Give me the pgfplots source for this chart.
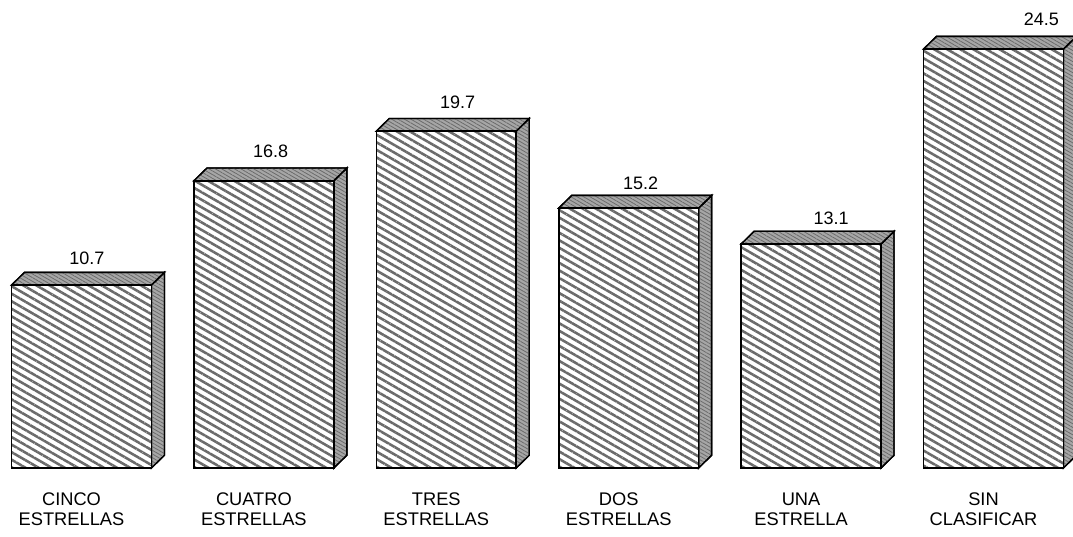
\documentclass[border=0pt]{standalone}
\usepackage{fontspec}
\setmainfont{Liberation Sans}
\usepackage{pgfplots}
\pgfplotsset{compat=1.18}
\usetikzlibrary{patterns.meta}
\tikzset{
  hatch/.style={pattern={Lines[angle=-30,distance=4.9pt,line width=1.9pt]},pattern color=black!58},
  face/.style={draw=black,line width=1pt,fill=black!35,postaction={pattern={Lines[angle=-30,distance=2.4pt,line width=.6pt]},pattern color=black!58}},
}
\begin{document}
\begin{tikzpicture}
\useasboundingbox (0,0) rectangle (804.75pt,402pt);
\begin{axis}[
  at={(0,0)},anchor=south west,
  scale only axis,width=804.75pt,height=402pt,
  xmin=-0.4468,xmax=5.4360,
  ymin=-3.977,ymax=27.37,
  clip=false,
  axis line style={draw=none},
  tick style={draw=none},
  ytick=\empty,
  xtick={0,1,2,3,4,5},
  xticklabels={CINCO\\ESTRELLAS,CUATRO\\ESTRELLAS,TRES\\ESTRELLAS,DOS\\ESTRELLAS,UNA\\ESTRELLA,SIN\\CLASIFICAR},
  xticklabel style={align=center,font=\fontsize{13.7}{15}\selectfont,xshift=-7.5pt,yshift=36pt},
  /pgf/number format/assume math mode=true,
  every node near coord/.append style={font=\fontsize{13.5}{15}\selectfont,anchor=south,yshift=10pt},
]
% side and top faces
\addplot[face] coordinates {(0.3835,0) (0.4548,0.743) (0.4548,11.443) (0.3835,10.7)} --cycle;
\addplot[face] coordinates {(-0.3835,10.7) (-0.3122,11.443) (0.4548,11.443) (0.3835,10.7)} --cycle;
\addplot[face] coordinates {(1.3835,0) (1.4548,0.743) (1.4548,17.543) (1.3835,16.8)} --cycle;
\addplot[face] coordinates {(0.6165,16.8) (0.6878,17.543) (1.4548,17.543) (1.3835,16.8)} --cycle;
\addplot[face] coordinates {(2.3835,0) (2.4548,0.743) (2.4548,20.443) (2.3835,19.7)} --cycle;
\addplot[face] coordinates {(1.6165,19.7) (1.6878,20.443) (2.4548,20.443) (2.3835,19.7)} --cycle;
\addplot[face] coordinates {(3.3835,0) (3.4548,0.743) (3.4548,15.943) (3.3835,15.2)} --cycle;
\addplot[face] coordinates {(2.6165,15.2) (2.6878,15.943) (3.4548,15.943) (3.3835,15.2)} --cycle;
\addplot[face] coordinates {(4.3835,0) (4.4548,0.743) (4.4548,13.843) (4.3835,13.1)} --cycle;
\addplot[face] coordinates {(3.6165,13.1) (3.6878,13.843) (4.4548,13.843) (4.3835,13.1)} --cycle;
\addplot[face] coordinates {(5.3835,0) (5.4548,0.743) (5.4548,25.243) (5.3835,24.5)} --cycle;
\addplot[face] coordinates {(4.6165,24.5) (4.6878,25.243) (5.4548,25.243) (5.3835,24.5)} --cycle;
% front faces, labels pushed sideways one by one as in the original
\addplot[ybar,bar width=0.767,draw=black,line width=1.2pt,fill=white,postaction={hatch},
  nodes near coords={\pgfmathprintnumber[fixed,precision=1,fixed zerofill]{\pgfplotspointmeta}},
  coordinate style/.condition={x==0}{xshift=4pt,yshift=1.5pt},
  coordinate style/.condition={x==1}{xshift=5pt,yshift=3.5pt},
  coordinate style/.condition={x==2}{xshift=8.5pt,yshift=3pt},
  coordinate style/.condition={x==3}{xshift=9pt},
  coordinate style/.condition={x==4}{xshift=15pt,yshift=.5pt},
  coordinate style/.condition={x==5}{xshift=36pt,yshift=3.5pt},
] coordinates {
(0,10.7) (1,16.8) (2,19.7) (3,15.2) (4,13.1) (5,24.5)};
\end{axis}
\end{tikzpicture}
\end{document}
